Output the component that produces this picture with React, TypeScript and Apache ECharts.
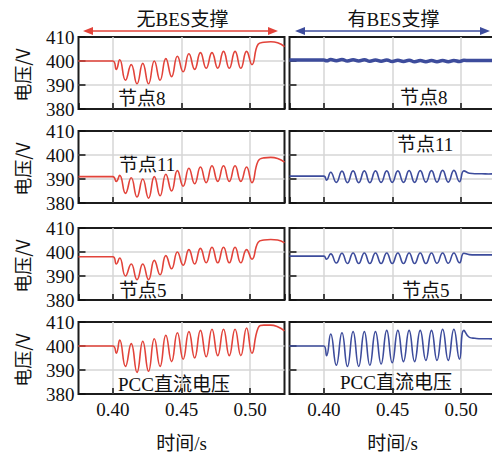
import React, { useEffect, useRef } from "react";
import * as echarts from "echarts";

// time instants (s) of the read extrema / breakpoints, left column (无BES支撑)
const LEFT_T = [
  0.375, 0.4, 0.4025, 0.405, 0.4092, 0.4134, 0.4176, 0.4218, 0.426, 0.4302,
  0.4344, 0.4386, 0.4428, 0.447, 0.4512, 0.4554, 0.4596, 0.4638, 0.468, 0.4722,
  0.4764, 0.4806, 0.4848, 0.489, 0.4932, 0.4974, 0.5013, 0.5058, 0.51, 0.515,
  0.52, 0.525,
];
// right column (有BES支撑)
const RIGHT_T = [
  0.375, 0.4, 0.402, 0.405, 0.4091, 0.4132, 0.4172, 0.4213, 0.4254, 0.4295,
  0.4335, 0.4376, 0.4417, 0.4458, 0.4498, 0.4539, 0.458, 0.4621, 0.4661, 0.4702,
  0.4743, 0.4784, 0.4824, 0.4865, 0.4906, 0.4947, 0.4988, 0.502, 0.506, 0.51,
  0.515, 0.52, 0.525,
];

// voltages (V)
const L_NODE8 = [
  400, 400, 396.5, 400.5, 392, 398.5, 390.5, 399, 390.5, 400, 392, 401, 393.5,
  402, 395.5, 403, 396.5, 403.5, 397, 403.5, 397, 404, 397, 404, 397, 404,
  398.5, 407, 407.8, 408, 407.6, 406,
];
const L_NODE11 = [
  391, 391, 389, 391.5, 384, 390.5, 382.5, 390, 382, 391, 383, 392, 385, 393.5,
  387, 394.5, 388, 395, 388.5, 395.5, 389, 395.5, 389, 395.5, 389, 395, 388.5,
  397.5, 398.8, 399, 398.5, 397,
];
const L_NODE5 = [
  398, 398, 395, 397.5, 390, 395, 388.5, 395, 388.5, 396.5, 390.5, 398.5, 393,
  400, 394.5, 401, 395, 401.5, 395.5, 402, 395.5, 402, 395.5, 402, 395.5, 401,
  397, 404, 405, 405.2, 405, 403.8,
];
const L_PCC = [
  400, 400, 397, 402.5, 391.5, 401, 389, 402, 389.5, 403, 391.5, 404.5, 393.5,
  405.5, 394.5, 406, 395, 406.5, 395.5, 407, 396, 407, 396, 407, 396, 407.5,
  397, 407.5, 408.7, 408.7, 408, 406.3,
];
const R_NODE8 = [
  400.4, 400.4, 400.1, 400.6, 400.1, 400.6, 400.0, 400.5, 400.0, 400.5, 399.9,
  400.4, 399.9, 400.4, 399.8, 400.3, 399.8, 400.3, 399.7, 400.2, 399.7, 400.2,
  399.7, 400.2, 399.7, 400.2, 399.8, 400.3, 400.2, 400.2, 400.2, 400.2, 400.2,
];
const R_NODE11 = [
  391.2, 391.2, 389.5, 392.8, 388.6, 393.3, 388.5, 393.4, 388.5, 393.4, 388.5,
  393.4, 388.6, 393.4, 388.6, 393.4, 388.6, 393.5, 388.6, 393.5, 388.7, 393.5,
  388.7, 393.6, 388.7, 393.6, 388.9, 393.4, 392.4, 392.2, 392.2, 392.1, 392.2,
];
const R_NODE5 = [
  398.3, 398.3, 397.0, 399.2, 395.4, 399.5, 395.2, 399.6, 395.2, 399.6, 395.2,
  399.6, 395.2, 399.6, 395.2, 399.6, 395.2, 399.6, 395.2, 399.6, 395.2, 399.6,
  395.3, 399.6, 395.3, 399.6, 395.5, 399.5, 398.9, 398.8, 398.8, 398.8, 398.8,
];
const R_PCC = [
  400, 400, 396, 405, 392, 405.5, 391.5, 406, 391.5, 406, 392, 406, 392.5,
  406.5, 393, 406.5, 393.5, 406.5, 393.5, 406.5, 394, 406.5, 394, 407, 394,
  407, 394.5, 406.5, 403.6, 403.2, 403, 403, 402.8,
];

const PANEL_LABELS = ["节点8", "节点11", "节点5", "PCC直流电压"];
const COLUMN_TITLES = ["无BES支撑", "有BES支撑"];
const Y_NAME = "电压/V";
const X_NAME = "时间/s";
const Y_MIN = 380;
const Y_MAX = 410;
const Y_STEP = 10;
const X_MIN = 0.375;
const X_MAX = 0.525;

const RED = "#e2433a";
const BLUE = "#3d4c9c";
const SERIF = "'Liberation Serif', 'Noto Sans CJK SC', serif";

export default function App() {
  const ref = useRef<HTMLDivElement | null>(null);

  useEffect(() => {
    if (!ref.current) return;
    const chart = echarts.init(ref.current, undefined, { renderer: "svg" });

    const rowTops = [37, 131, 228, 322];
    const rowH = 72;
    const colLefts = [78.5, 289.5];
    const colW = 206;

    const left = [L_NODE8, L_NODE11, L_NODE5, L_PCC];
    const right = [R_NODE8, R_NODE11, R_NODE5, R_PCC];

    const grids: any[] = [];
    const xAxes: any[] = [];
    const yAxes: any[] = [];
    const series: any[] = [];

    for (let r = 0; r < 4; r++) {
      for (let c = 0; c < 2; c++) {
        const i = r * 2 + c;
        grids.push({
          left: colLefts[c],
          top: rowTops[r],
          width: colW,
          height: rowH,
          show: true,
          borderColor: "#1c1c1c",
          borderWidth: 2,
          backgroundColor: "transparent",
          containLabel: false,
          outerBoundsMode: "none",
        });
        xAxes.push({
          type: "value",
          gridIndex: i,
          min: X_MIN,
          max: X_MAX,
          splitNumber: 3,
          axisLine: { show: false },
          axisTick: {
            show: true,
            inside: true,
            length: 6,
            lineStyle: { color: "#111", width: 1.5 },
          },
          axisLabel: {
            show: r === 3,
            showMinLabel: false,
            showMaxLabel: false,
            formatter: (v: number) => v.toFixed(2),
            fontSize: 19,
            fontFamily: SERIF,
            color: "#111",
            margin: 6,
          },
          splitLine: {
            show: true,
            showMinLine: false,
            showMaxLine: false,
            lineStyle: { color: "#d6d6d6", width: 1.5 },
          },
        });
        yAxes.push({
          type: "value",
          gridIndex: i,
          min: Y_MIN,
          max: Y_MAX,
          interval: Y_STEP,
          axisLine: { show: false },
          axisTick: {
            show: true,
            inside: true,
            length: 7,
            lineStyle: { color: "#111", width: 1.5 },
          },
          axisLabel: {
            show: c === 0,
            fontSize: 19,
            fontFamily: SERIF,
            color: "#111",
            margin: 4,
          },
          splitLine: {
            show: true,
            showMinLine: false,
            showMaxLine: false,
            lineStyle: { color: "#d6d6d6", width: 1.5 },
          },
        });
        const T = c === 0 ? LEFT_T : RIGHT_T;
        const V = c === 0 ? left[r] : right[r];
        series.push({
          type: "line",
          xAxisIndex: i,
          yAxisIndex: i,
          data: T.map((t, k) => [t, V[k]]),
          showSymbol: false,
          symbol: "none",
          smooth: 0.5,
          silent: true,
          z: 3,
          lineStyle: {
            color: c === 0 ? RED : BLUE,
            width: c === 1 && r === 0 ? 3.5 : 1.6,
          },
        });
      }
    }

    const labelPos: [number, number][][] = [
      [[118, 98], [400, 97]],
      [[119, 164], [397, 144]],
      [[119, 290], [402, 290]],
      [[118, 384], [340, 382]],
    ];

    const graphic: any[] = [];
    for (let r = 0; r < 4; r++) {
      graphic.push({
        type: "text",
        x: 22,
        y: rowTops[r] + rowH / 2 + 2,
        rotation: Math.PI / 2,
        style: {
          text: Y_NAME,
          align: "center",
          verticalAlign: "middle",
          font: "18px 'Noto Sans CJK SC', sans-serif",
          fill: "#111",
        },
      });
      for (let c = 0; c < 2; c++) {
        graphic.push({
          type: "text",
          x: labelPos[r][c][0],
          y: labelPos[r][c][1],
          style: {
            text: PANEL_LABELS[r],
            align: "left",
            verticalAlign: "middle",
            font: "19px " + SERIF,
            fill: "#111",
          },
        });
      }
    }
    const centers = [181.5, 392.5];
    const arrowSpans = [
      [83, 278],
      [295, 490],
    ];
    const colColors = [RED, BLUE];
    for (let c = 0; c < 2; c++) {
      graphic.push({
        type: "text",
        x: centers[c],
        y: 443,
        style: {
          text: X_NAME,
          align: "center",
          verticalAlign: "middle",
          font: "19px " + SERIF,
          fill: "#111",
        },
      });
      graphic.push({
        type: "text",
        x: centers[c] + 1,
        y: 19,
        style: {
          text: COLUMN_TITLES[c],
          align: "center",
          verticalAlign: "middle",
          font: "19px " + SERIF,
          fill: "#111",
        },
      });
      const [a, b] = arrowSpans[c];
      const y = 31;
      graphic.push({
        type: "line",
        shape: { x1: a + 6, y1: y, x2: b - 6, y2: y },
        style: { stroke: colColors[c], lineWidth: 1.5 },
      });
      graphic.push({
        type: "polygon",
        shape: { points: [[a, y], [a + 10, y - 4], [a + 10, y + 4]] },
        style: { fill: colColors[c] },
      });
      graphic.push({
        type: "polygon",
        shape: { points: [[b, y], [b - 10, y - 4], [b - 10, y + 4]] },
        style: { fill: colColors[c] },
      });
    }

    chart.setOption({
      animation: false,
      backgroundColor: "#ffffff",
      grid: grids,
      xAxis: xAxes,
      yAxis: yAxes,
      series,
      graphic,
    });

    return () => chart.dispose();
  }, []);

  return (
    <div
      ref={ref}
      style={{ position: "fixed", left: 0, top: 0, width: 492, height: 453 }}
    />
  );
}
